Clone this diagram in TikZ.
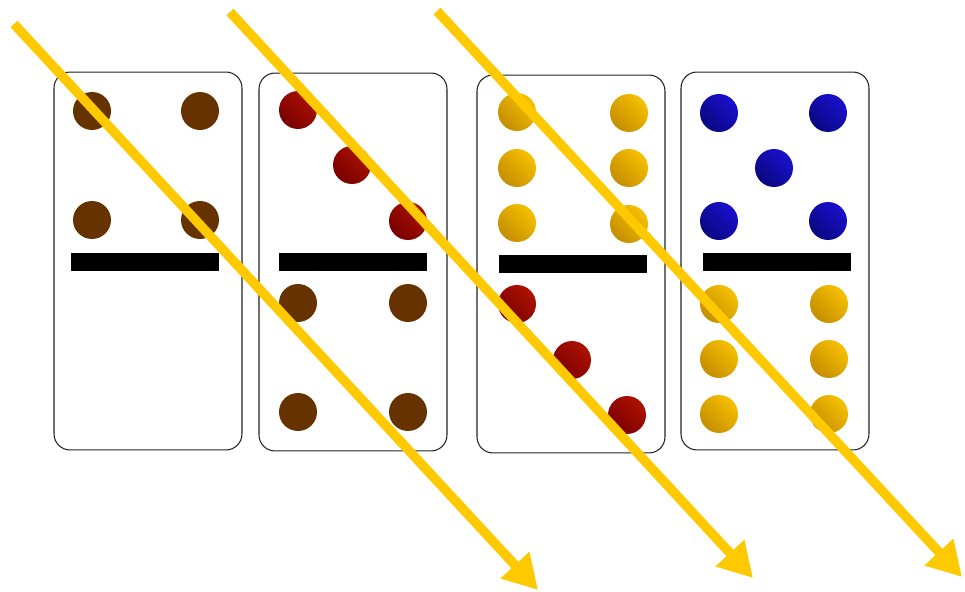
\documentclass[tikz,border=0pt]{standalone}
\usetikzlibrary{arrows.meta}
\definecolor{arrowyellow}{HTML}{FFC900}
\definecolor{brownpip}{HTML}{663300}
\definecolor{redlight}{HTML}{AE1200}
\definecolor{reddark}{HTML}{780000}
\definecolor{yellight}{HTML}{F6C000}
\definecolor{yeldark}{HTML}{C58E00}
\definecolor{bluelight}{HTML}{1A10CE}
\definecolor{bluedark}{HTML}{0A0880}
\definecolor{edgegray}{HTML}{222222}
\tikzset{
  domino/.style={draw=edgegray, line width=0.6pt, fill=white, rounded corners=0.32cm,
    minimum width=3.76cm, minimum height=7.56cm, inner sep=0pt},
  bar/.style={fill=black, draw=none, minimum width=2.96cm, minimum height=0.36cm, inner sep=0pt},
  pip/.style={circle, draw=none, minimum size=0.76cm, inner sep=0pt},
  brownp/.style={pip, fill=brownpip},
  redp/.style={pip, shading=axis, top color=redlight, bottom color=reddark, shading angle=-45},
  yelp/.style={pip, shading=axis, top color=yellight, bottom color=yeldark, shading angle=-45},
  bluep/.style={pip, shading=axis, top color=bluelight, bottom color=bluedark, shading angle=-45},
  bigarrow/.style={draw=arrowyellow, line width=0.19cm,
    -{Triangle[length=0.68cm,width=0.74cm,fill=arrowyellow]}}
}
\begin{document}
\begin{tikzpicture}[x=0.02cm,y=-0.02cm]
\useasboundingbox (0,0) rectangle (965,592);
% dominoes
\node[domino] (d1) at (148,261) {};
\node[domino] (d2) at (353,262) {};
\node[domino] (d3) at (571,264) {};
\node[domino] (d4) at (775,261) {};
% bars
\node[bar] (b1) at (145,262) {};
\node[bar] (b2) at (353,262) {};
\node[bar] (b3) at (573,264) {};
\node[bar] (b4) at (777,262) {};
% domino 1
\node[brownp] (p11) at (92,111) {};
\node[brownp] (p12) at (200,111) {};
\node[brownp] (p13) at (92,220) {};
\node[brownp] (p14) at (200,220) {};
% domino 2
\node[redp] (p21) at (298,110) {};
\node[redp] (p22) at (352,165) {};
\node[redp] (p23) at (408,221) {};
\node[brownp] (p24) at (298,303) {};
\node[brownp] (p25) at (408,303) {};
\node[brownp] (p26) at (298,412) {};
\node[brownp] (p27) at (408,412) {};
% domino 3
\node[yelp] (p31) at (517,112) {};
\node[yelp] (p32) at (629,113) {};
\node[yelp] (p33) at (517,168) {};
\node[yelp] (p34) at (629,168) {};
\node[yelp] (p35) at (517,223) {};
\node[yelp] (p36) at (629,224) {};
\node[redp] (p37) at (517,304) {};
\node[redp] (p38) at (572,360) {};
\node[redp] (p39) at (627,415) {};
% domino 4
\node[bluep] (p41) at (719,113) {};
\node[bluep] (p42) at (828,113) {};
\node[bluep] (p43) at (774,168) {};
\node[bluep] (p44) at (719,221) {};
\node[bluep] (p45) at (828,221) {};
\node[yelp] (p46) at (719,304) {};
\node[yelp] (p47) at (829,304) {};
\node[yelp] (p48) at (719,359) {};
\node[yelp] (p49) at (829,359) {};
\node[yelp] (p410) at (719,414) {};
\node[yelp] (p411) at (829,414) {};
% arrows
\coordinate (a1s) at (14,24);
\coordinate (a1e) at (538,590);
\coordinate (a2s) at (230,12);
\coordinate (a2e) at (753,578);
\coordinate (a3s) at (437,11);
\coordinate (a3e) at (962,577);
\draw[bigarrow] (a1s) -- (a1e);
\draw[bigarrow] (a2s) -- (a2e);
\draw[bigarrow] (a3s) -- (a3e);
\end{tikzpicture}
\end{document}
